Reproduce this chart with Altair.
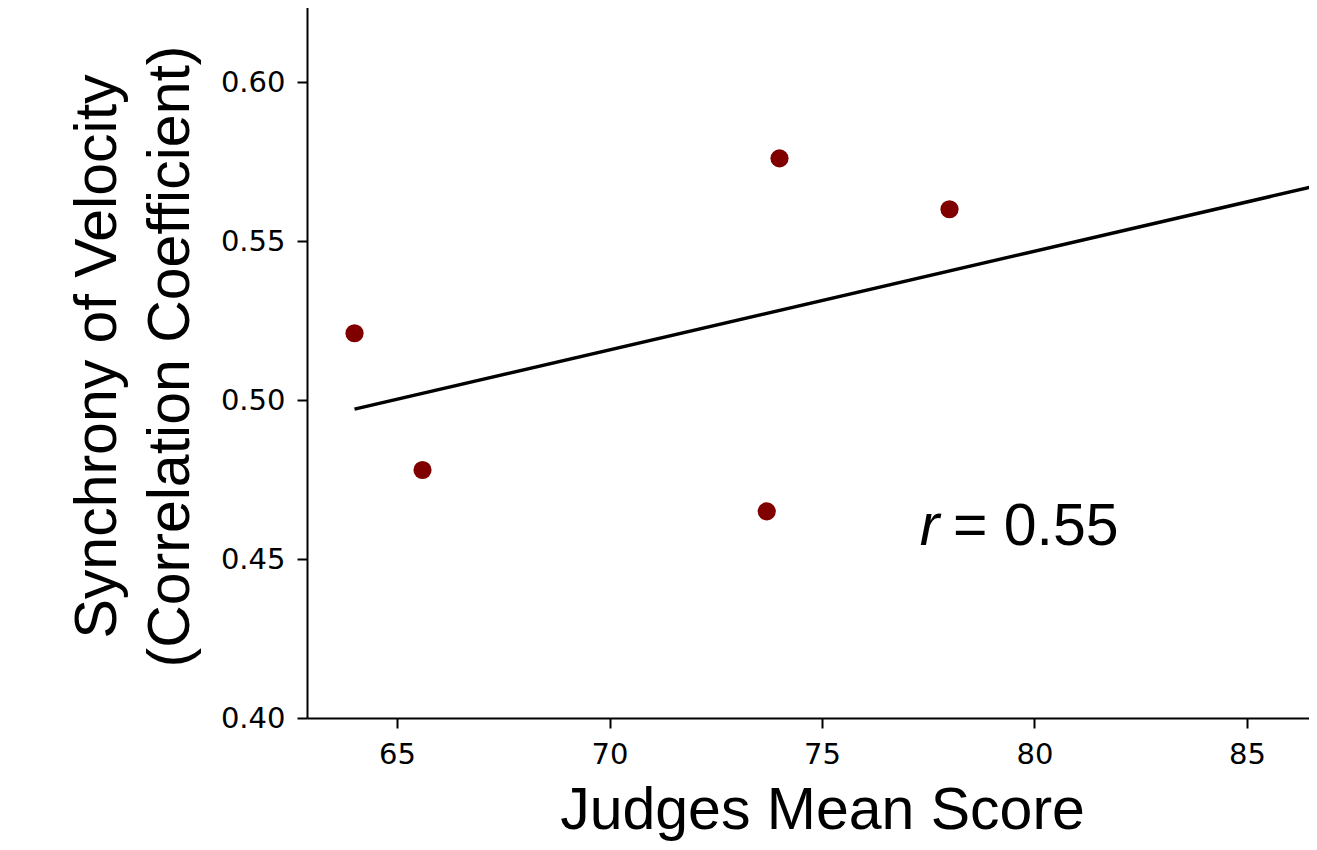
import altair as alt
import pandas as pd

# Data
judges_score = [64.0, 65.6, 73.7, 74.0, 78.0, 86.75]
synchrony = [0.521, 0.478, 0.465, 0.576, 0.560, 0.563]

x_ticks = [65, 70, 75, 80, 85]
y_ticks = [0.40, 0.45, 0.50, 0.55, 0.60]

ann_r_x = [77.3]
ann_r_y = [0.4544]
ann_r_text = ["r"]
ann_v_x = [78.08]
ann_v_y = [0.4544]
ann_v_text = ["= 0.55"]

df = pd.DataFrame({"score": judges_score, "sync": synchrony})
ann_r = pd.DataFrame({"x": ann_r_x, "y": ann_r_y, "t": ann_r_text})
ann_v = pd.DataFrame({"x": ann_v_x, "y": ann_v_y, "t": ann_v_text})

x_scale = alt.Scale(domain=[62.882, 86.459], nice=False, zero=False)
y_scale = alt.Scale(domain=[0.40, 0.6258], nice=False, zero=False)

x_axis = alt.Axis(
    title="Judges Mean Score", values=x_ticks, format="d", grid=False,
    labelFont="DejaVu Sans", labelFontSize=29, labelColor="black", labelPadding=12,
    tickSize=10, tickWidth=2, tickColor="black",
    domainColor="black", domainWidth=2,
    titleFont="Liberation Sans", titleFontSize=59, titleFontWeight="normal",
    titleColor="black", titleX=515, titleY=110, titleAlign="center",
    titleBaseline="alphabetic",
)
y_axis = alt.Axis(
    title=["Synchrony of Velocity", "(Correlation Coefficient)"],
    values=y_ticks, format=".2f", grid=False,
    labelFont="DejaVu Sans", labelFontSize=29, labelColor="black", labelPadding=12,
    tickSize=10, tickWidth=2, tickColor="black",
    domainColor="black", domainWidth=2,
    titleFont="Liberation Sans", titleFontSize=59, titleFontWeight="normal",
    titleColor="black", titleAngle=270, titleX=-192, titleY=356,
    titleAlign="center", titleBaseline="alphabetic", titleLineHeight=73,
)

base = alt.Chart(df)

points = base.mark_circle(size=330, color="#800000", opacity=1, clip=True).encode(
    x=alt.X("score:Q", scale=x_scale, axis=x_axis),
    y=alt.Y("sync:Q", scale=y_scale, axis=y_axis),
)

line = base.mark_line(color="black", strokeWidth=3.5, clip=True).transform_regression(
    "score", "sync"
).encode(
    x=alt.X("score:Q", scale=x_scale),
    y=alt.Y("sync:Q", scale=y_scale),
)

text_r = alt.Chart(ann_r).mark_text(
    font="Liberation Sans", fontSize=59, fontStyle="italic", color="black",
    align="left", baseline="alphabetic",
).encode(x=alt.X("x:Q", scale=x_scale), y=alt.Y("y:Q", scale=y_scale), text="t:N")

text_v = alt.Chart(ann_v).mark_text(
    font="Liberation Sans", fontSize=59, color="black",
    align="left", baseline="alphabetic",
).encode(x=alt.X("x:Q", scale=x_scale), y=alt.Y("y:Q", scale=y_scale), text="t:N")

chart = alt.layer(line, points, text_r, text_v).properties(
    width=1002, height=718,
    autosize=alt.AutoSizeParams(type="none"),
    padding={"top": -8, "left": 299, "right": 0, "bottom": 124},
).configure_view(stroke=None)

chart.save("out.html", embed_options={"renderer": "svg", "actions": False})
